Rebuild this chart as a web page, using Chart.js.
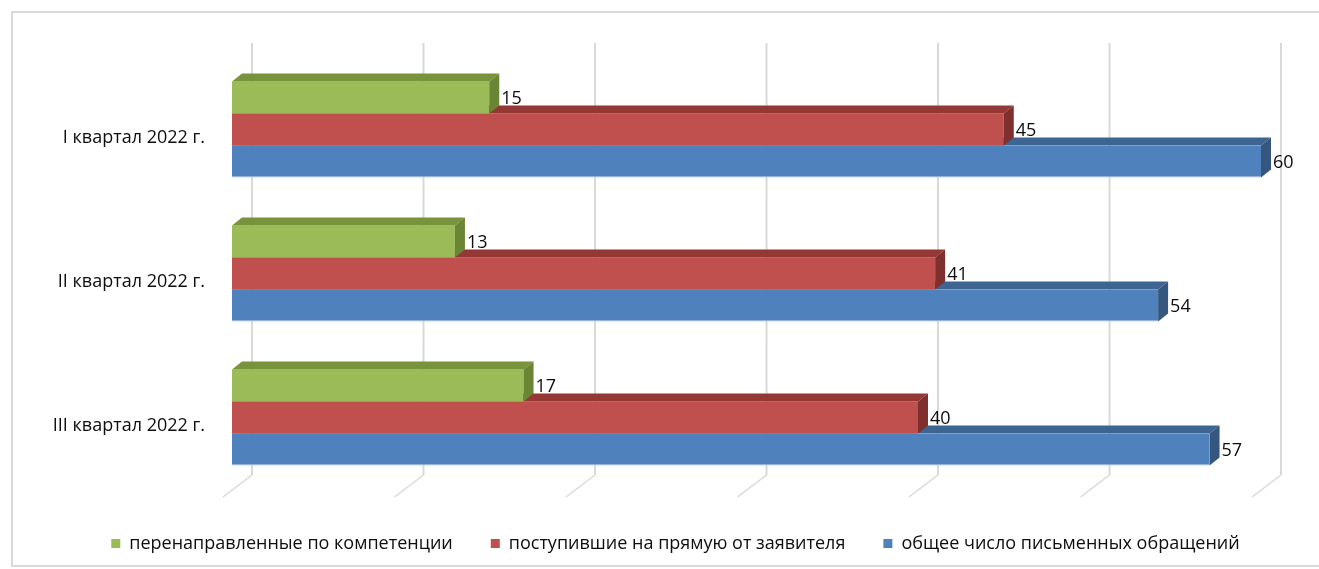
<!DOCTYPE html>
<html>
<head>
<meta charset="utf-8">
<script src="https://cdn.jsdelivr.net/npm/chart.js@4/dist/chart.umd.min.js"></script>
<style>
    body { margin: 0; background: #fff; }
    #wrap { width: 1319px; height: 569px; }
</style>
</head>
<body>
<div id="wrap"><canvas id="grafico" width="1319" height="569"></canvas></div>
<script>
// ─────────────────────────────────────────────────────────────────────────────
// DATOS
// ─────────────────────────────────────────────────────────────────────────────
const categorias = ['I квартал 2022 г.', 'II квартал 2022 г.', 'III квартал 2022 г.'];
const series = [
    'перенаправленные по компетенции',
    'поступившие на прямую от заявителя',
    'общее число письменных обращений'
];
const valoresPerenapr  = [15, 13, 17];
const valoresPostupiv  = [45, 41, 40];
const valoresObshchee  = [60, 54, 57];
const ejeX = { min: 0, max: 60, paso: 10 };

// colores: frente, cara superior, cara lateral
const colores = [
    ['#9BBB59', '#77933C', '#6A8634'],
    ['#C0504D', '#953735', '#7F302E'],
    ['#4F81BD', '#3E6491', '#34567F']
];

const FUENTE = '"Open Sans", sans-serif';
const PROF_X = 10;     // profundidad 3D de las barras
const PROF_Y = 8;
const FONDO_X = 20;    // desplazamiento de la pared del fondo
const FONDO_Y = 14.5;

// ─────────────────────────────────────────────────────────────────────────────
// PLUGIN 3D
// ─────────────────────────────────────────────────────────────────────────────
const efecto3D = {
    id: 'efecto3D',
    beforeDraw(chart) {
        const ctx = chart.ctx;
        ctx.save();
        ctx.strokeStyle = '#D9D9D9';
        ctx.lineWidth = 2;
        ctx.strokeRect(12, 12, 1340, 554);
        ctx.restore();
    },
    beforeDatasetsDraw(chart) {
        const ctx = chart.ctx;
        const area = chart.chartArea;
        const x = chart.scales.x;
        ctx.save();
        ctx.strokeStyle = '#D9D9D9';
        x.ticks.forEach(function (t) {
            const xb = x.getPixelForValue(t.value) + FONDO_X;
            ctx.lineWidth = 2;
            ctx.beginPath();
            ctx.moveTo(xb, area.top - FONDO_Y);
            ctx.lineTo(xb, area.bottom - FONDO_Y);
            ctx.stroke();
            ctx.lineWidth = 1.5;
            ctx.beginPath();
            ctx.moveTo(xb, area.bottom - FONDO_Y);
            ctx.lineTo(xb - 29, area.bottom + 7.5);
            ctx.stroke();
        });
        ctx.restore();
    },
    afterDatasetDraw(chart, args) {
        const ctx = chart.ctx;
        const c = colores[args.index];
        ctx.save();
        args.meta.data.forEach(function (bar) {
            const p = bar.getProps(['x', 'y', 'base', 'height'], true);
            const y0 = p.y - p.height / 2;
            const y1 = p.y + p.height / 2;
            // cara superior
            ctx.fillStyle = c[1];
            ctx.beginPath();
            ctx.moveTo(p.base, y0);
            ctx.lineTo(p.base + PROF_X, y0 - PROF_Y);
            ctx.lineTo(p.x + PROF_X, y0 - PROF_Y);
            ctx.lineTo(p.x, y0);
            ctx.closePath();
            ctx.fill();
            // cara lateral
            ctx.fillStyle = c[2];
            ctx.beginPath();
            ctx.moveTo(p.x, y0);
            ctx.lineTo(p.x + PROF_X, y0 - PROF_Y);
            ctx.lineTo(p.x + PROF_X, y1 - PROF_Y);
            ctx.lineTo(p.x, y1);
            ctx.closePath();
            ctx.fill();
        });
        ctx.restore();
    },
    afterDatasetsDraw(chart) {
        const ctx = chart.ctx;
        ctx.save();
        ctx.font = '18px ' + FUENTE;
        ctx.fillStyle = '#0d0d0d';
        ctx.textAlign = 'left';
        ctx.textBaseline = 'middle';
        chart.data.datasets.forEach(function (ds, i) {
            chart.getDatasetMeta(i).data.forEach(function (bar, j) {
                const p = bar.getProps(['x', 'y'], true);
                ctx.fillText(String(ds.data[j]), p.x + PROF_X + 2, p.y + 1);
            });
        });
        ctx.restore();
    }
};

// ─────────────────────────────────────────────────────────────────────────────
// GRÁFICO
// ─────────────────────────────────────────────────────────────────────────────
const valores = [valoresPerenapr, valoresPostupiv, valoresObshchee];

new Chart(document.getElementById('grafico'), {
    type: 'bar',
    data: {
        labels: categorias,
        datasets: series.map(function (nombre, i) {
            const esUltima = i === series.length - 1;
            return {
                label: nombre,
                data: valores[i],
                backgroundColor: colores[i][0],
                // borde inferior claro en la barra azul
                borderWidth: esUltima ? { top: 0, right: 0, bottom: 1.5, left: 0 } : 0,
                borderColor: '#95B3D7',
                borderSkipped: false,
                barPercentage: 1,
                categoryPercentage: 96 / 144
            };
        })
    },
    options: {
        indexAxis: 'y',
        responsive: false,
        animation: false,
        layout: { padding: { left: 32, right: 0, top: 57.5, bottom: 6.5 } },
        plugins: {
            legend: {
                position: 'bottom',
                labels: {
                    boxWidth: 9,
                    boxHeight: 9,
                    padding: 38,
                    color: '#0d0d0d',
                    font: { family: FUENTE, size: 18 },
                    generateLabels: function (chart) {
                        return chart.data.datasets.map(function (ds, i) {
                            return {
                                text: ds.label,
                                fillStyle: colores[i][0],
                                strokeStyle: colores[i][0],
                                lineWidth: 0,
                                fontColor: '#0d0d0d',
                                datasetIndex: i
                            };
                        });
                    }
                }
            },
            tooltip: { enabled: false }
        },
        scales: {
            x: {
                min: ejeX.min,
                max: ejeX.max,
                ticks: { stepSize: ejeX.paso, display: false },
                grid: { display: false },
                border: { display: false },
                afterFit: function (scale) { scale.height = 7; }
            },
            y: {
                grid: { display: false, drawTicks: false },
                border: { display: false },
                ticks: {
                    padding: 27,
                    labelOffset: 8,
                    color: '#0d0d0d',
                    font: { family: FUENTE, size: 18 }
                },
                afterFit: function (scale) { scale.width = 200; }
            },
            // margen derecho (espacio para las etiquetas de datos)
            yDer: {
                type: 'category',
                position: 'right',
                grid: { display: false, drawTicks: false },
                border: { display: false },
                ticks: { display: false },
                afterFit: function (scale) { scale.width = 58; }
            }
        }
    },
    plugins: [efecto3D]
});
</script>
</body>
</html>
